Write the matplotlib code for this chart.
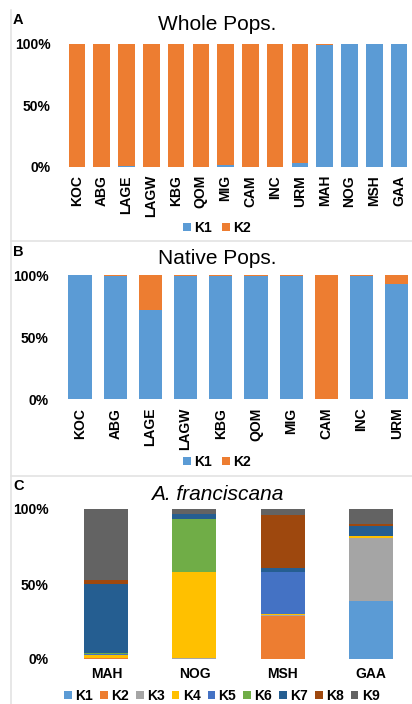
import matplotlib
matplotlib.use("Agg")
import matplotlib.pyplot as plt
from matplotlib.patches import Patch
from matplotlib.lines import Line2D
import numpy as np

plt.rcParams['font.family'] = ['Liberation Sans', 'DejaVu Sans']

W, H = 412, 704

# --- data -------------------------------------------------------------
whole_pops = ["KOC", "ABG", "LAGE", "LAGW", "KBG", "QOM", "MIG", "CAM",
              "INC", "URM", "MAH", "NOG", "MSH", "GAA"]
whole_k1 = [0, 0, 0.5, 0, 0, 0, 1.5, 0, 0, 3, 99, 100, 100, 100]
whole_k2 = [100 - v for v in whole_k1]

native_pops = ["KOC", "ABG", "LAGE", "LAGW", "KBG", "QOM", "MIG", "CAM",
               "INC", "URM"]
native_k1 = [100, 99.7, 72, 99.7, 99.7, 99.7, 99.5, 0, 99.7, 93]
native_k2 = [100 - v for v in native_k1]

franc_pops = ["MAH", "NOG", "MSH", "GAA"]
franc_k = {
    "K1": [0, 0, 0, 38.5],
    "K2": [0.5, 0.2, 29, 0],
    "K3": [0.3, 0.5, 0.3, 42],
    "K4": [2.0, 57, 0.4, 1.5],
    "K5": [0.5, 0.5, 28, 0],
    "K6": [0.8, 35, 0.2, 0.3],
    "K7": [46, 3.5, 3, 6.5],
    "K8": [2.5, 0.3, 35, 1.5],
    "K9": [47.4, 3.0, 4.1, 9.7],
}

colors = {
    "K1": "#5B9BD5", "K2": "#ED7D31", "K3": "#A5A5A5", "K4": "#FFC000",
    "K5": "#4472C4", "K6": "#70AD47", "K7": "#255E91", "K8": "#9E480E",
    "K9": "#636363",
}

fig = plt.figure(figsize=(W / 100, H / 100), dpi=100)
fig.patch.set_facecolor("white")


def px_axes(left, right, top, bottom):
    """Add axes from pixel bounds (origin top-left)."""
    return fig.add_axes([left / W, 1 - bottom / H, (right - left) / W, (bottom - top) / H])


def style_axes(ax, labels, rotation, fs):
    ax.set_ylim(0, 100)
    ax.set_yticks([0, 50, 100])
    ax.set_yticklabels(["0%", "50%", "100%"], fontsize=10, fontweight="bold")
    ax.set_xticks(np.arange(len(labels)))
    ax.set_xticklabels(labels, rotation=rotation, fontsize=fs, fontweight="bold")
    ax.tick_params(length=0)
    ax.tick_params(axis="y", pad=10)
    ax.tick_params(axis="x", pad=6)
    for s in ax.spines.values():
        s.set_visible(False)
    ax.set_xlim(-0.5, len(labels) - 0.5)


def legend(keys, y, x=217, spacing=0.75):
    handles = [Patch(facecolor=colors[k], edgecolor="none") for k in keys]
    fig.legend(handles, keys, loc="center", bbox_to_anchor=(x / W, 1 - y / H),
               ncol=len(keys), frameon=False, handlelength=0.55, handleheight=0.55,
               handletextpad=0.25, columnspacing=spacing,
               prop={"weight": "bold", "size": 10})


# --- panel A: whole populations ----------------------------------------
axA = px_axes(64.6, 411.4, 43.7, 166.7)
x = np.arange(len(whole_pops))
axA.bar(x, whole_k1, width=0.67, color=colors["K1"])
axA.bar(x, whole_k2, width=0.67, bottom=whole_k1, color=colors["K2"])
style_axes(axA, whole_pops, 90, 10)
fig.text(217 / W, 1 - 24 / H, "Whole Pops.", ha="center", va="center", fontsize=15)
fig.text(13 / W, 1 - 19.5 / H, "A", ha="left", va="center", fontsize=10.5, fontweight="bold")
legend(["K1", "K2"], 228)

# --- panel B: native populations ---------------------------------------
axB = px_axes(62.4, 414.3, 275.3, 399.3)
x = np.arange(len(native_pops))
axB.bar(x, native_k1, width=0.66, color=colors["K1"])
axB.bar(x, native_k2, width=0.66, bottom=native_k1, color=colors["K2"])
style_axes(axB, native_pops, 90, 10)
fig.text(217 / W, 1 - 259 / H, "Native Pops.", ha="center", va="center", fontsize=15)
fig.text(13 / W, 1 - 252.5 / H, "B", ha="left", va="center", fontsize=10.5, fontweight="bold")
legend(["K1", "K2"], 462)

# --- panel C: A. franciscana -------------------------------------------
axC = px_axes(62.3, 414.7, 509, 659)
x = np.arange(len(franc_pops))
bottom = np.zeros(len(franc_pops))
for k, vals in franc_k.items():
    axC.bar(x, vals, width=0.5, bottom=bottom, color=colors[k])
    bottom += np.array(vals)
style_axes(axC, franc_pops, 0, 10)
fig.text(217 / W, 1 - 495 / H, "A. franciscana", ha="center", va="center",
         fontsize=15, style="italic")
fig.text(13 / W, 1 - 486.5 / H, "C", ha="left", va="center", fontsize=10.5, fontweight="bold")
legend(list(franc_k.keys()), 696, x=222, spacing=0.5)

# panel frame lines
line_kw = dict(color="#e3e3e3", linewidth=1.2, transform=fig.transFigure)
fig.add_artist(Line2D([10.7 / W, 10.7 / W], [0, 1 - 10 / H], **line_kw))
fig.add_artist(Line2D([10.7 / W, 1], [1 - 241 / H, 1 - 241 / H], **line_kw))
fig.add_artist(Line2D([10.7 / W, 1], [1 - 476 / H, 1 - 476 / H], **line_kw))

fig.savefig("out.png", dpi=100, facecolor="white")
